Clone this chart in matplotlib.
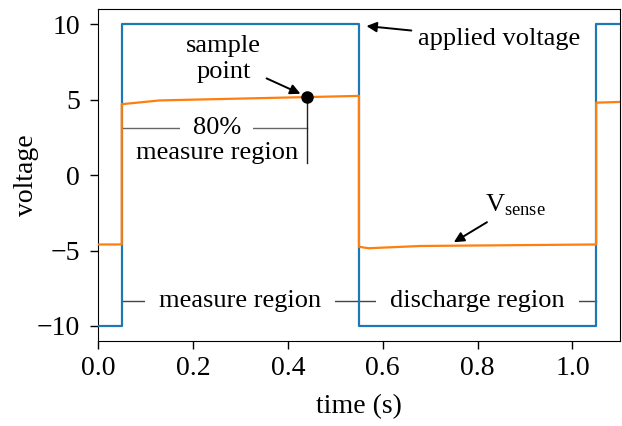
import matplotlib
matplotlib.use("Agg")
import matplotlib.pyplot as plt

plt.rcParams['font.family'] = ['Liberation Serif', 'DejaVu Serif']
plt.rcParams['mathtext.fontset'] = 'custom'
plt.rcParams['mathtext.rm'] = 'Liberation Serif'
plt.rcParams['font.size'] = 19

# applied square wave
t_applied = [0.0, 0.05, 0.05, 0.55, 0.55, 1.05, 1.05, 1.1]
v_applied = [-10, -10, 10, 10, -10, -10, 10, 10]

# sensed voltage
t_sense = [0.0, 0.05, 0.05, 0.13, 0.55, 0.55, 0.57, 0.68, 1.05, 1.05, 1.1]
v_sense = [-4.6, -4.6, 4.7, 4.95, 5.25, -4.75, -4.85, -4.7, -4.6, 4.8, 4.85]

sample_t = 0.44
sample_v = 5.2

fig = plt.figure(figsize=(6.22, 4.26), dpi=100)
ax = fig.add_axes([0.1576, 0.1995, 0.839, 0.779])

ax.plot(t_applied, v_applied, color='#1f77b4', lw=1.6, zorder=5)
ax.plot(t_sense, v_sense, color='#ff7f0e', lw=1.6, zorder=6)
ax.plot([sample_t], [sample_v], 'o', color='black', ms=8, zorder=7)

ax.set_xlim(0, 1.1)
ax.set_ylim(-11, 11)
ax.set_xticks([0.0, 0.2, 0.4, 0.6, 0.8, 1.0])
ax.set_yticks([-10, -5, 0, 5, 10])
ax.set_xlabel('time (s)', fontsize=20, labelpad=9)
ax.set_ylabel('voltage', fontsize=20, labelpad=-2)
ax.tick_params(length=6, width=1, labelsize=20)
ax.tick_params(axis='x', pad=5)
ax.tick_params(axis='y', pad=7)

# annotations
ax.annotate('sample\npoint', xy=(sample_t, sample_v), xytext=(0.265, 7.7),
            ha='center', va='center', linespacing=1.2,
            arrowprops=dict(arrowstyle='-|>', color='black', lw=1.4,
                            mutation_scale=15, shrinkB=5))
ax.annotate('applied voltage', xy=(0.56, 9.9), xytext=(0.675, 9.0),
            ha='left', va='center',
            arrowprops=dict(arrowstyle='-|>', color='black', lw=1.4,
                            mutation_scale=15, shrinkA=3, shrinkB=2))
ax.annotate(r'V$_{\mathrm{sense}}$', xy=(0.75, -4.45), xytext=(0.815, -2.0),
            ha='left', va='center',
            arrowprops=dict(arrowstyle='-|>', color='black', lw=1.4,
                            mutation_scale=15, shrinkA=2, shrinkB=0))

# 80% measure region bracket
ax.plot([0.05, sample_t], [3.1, 3.1], color='#666666', lw=1, zorder=3)
ax.plot([sample_t, sample_t], [sample_v, 0.8], color='#222222', lw=1, zorder=3)
ax.text(0.25, 3.1, '80%', ha='center', va='center', zorder=4,
        bbox=dict(facecolor='white', edgecolor='none', pad=9))
ax.text(0.25, 1.45, 'measure region', ha='center', va='center', zorder=4,
        bbox=dict(facecolor='white', edgecolor='none', pad=1))

# measure / discharge region line
ax.plot([0.05, 1.05], [-8.35, -8.35], color='#444444', lw=1, zorder=3)
ax.text(0.3, -8.35, 'measure region', ha='center', va='center', zorder=4,
        bbox=dict(facecolor='white', edgecolor='none', pad=10))
ax.text(0.8, -8.35, 'discharge region', ha='center', va='center', zorder=4,
        bbox=dict(facecolor='white', edgecolor='none', pad=10))

fig.savefig('out.png', dpi=100)
